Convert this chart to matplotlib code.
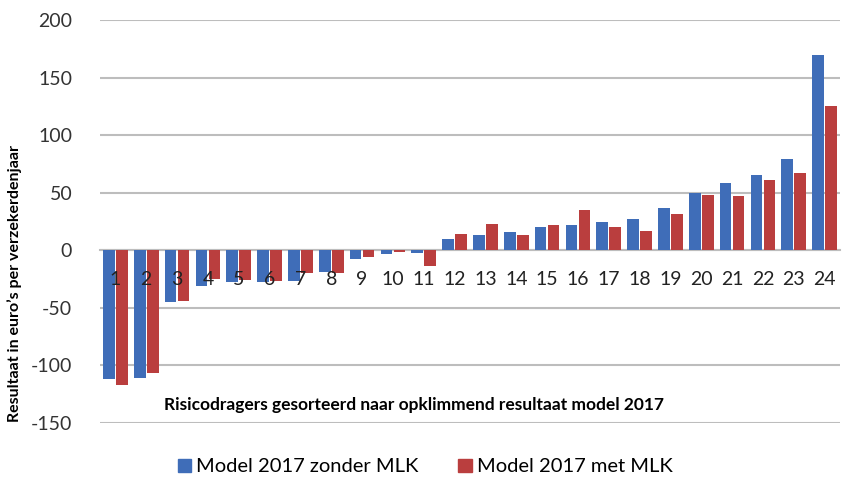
import numpy as np
import matplotlib.pyplot as plt
from matplotlib.patches import Patch

plt.rcParams['font.family'] = ['Lato', 'DejaVu Sans']
plt.rcParams['axes.unicode_minus'] = False

categories = [str(i) for i in range(1, 25)]
zonder_mlk = [-112, -111, -45, -31, -27.5, -27.5, -26.7, -19, -8, -3, -2.5, 10,
              13.3, 16.2, 20, 22.3, 24.9, 27, 36.8, 50.1, 58.3, 65.2, 79.1, 169.6]
met_mlk = [-117, -107, -44, -25, -25.5, -26.5, -20, -19.5, -6, -1.5, -13.7, 14.5,
           23.2, 13.3, 22.3, 34.8, 20.3, 17.1, 31.9, 48.4, 47.5, 61.4, 67.2, 125.5]

blue = '#3F6DB8'
red = '#BA3E3E'
grid_c = '#BDBDBD'

fig = plt.figure(figsize=(8.46, 4.8), dpi=100)
ax = fig.add_axes([100/846, 1 - 423/480, 740/846, 403/480])

x = np.arange(len(categories))
w = 0.38
ax.bar(x - 0.21, zonder_mlk, w, color=blue, zorder=3)
ax.bar(x + 0.21, met_mlk, w, color=red, zorder=3)

ax.set_xlim(-0.5, len(categories) - 0.5)
ax.set_ylim(-150, 200)
ax.set_yticks(range(-150, 201, 50))
ax.yaxis.grid(True, color=grid_c, linewidth=1.5)
ax.yaxis.set_zorder(1)
ax.tick_params(axis='y', length=0, pad=20, labelsize=14, labelcolor='#333333')

ax.spines['bottom'].set_position(('data', 0))
ax.spines['bottom'].set_color(grid_c)
ax.spines['bottom'].set_linewidth(1.5)
ax.spines['bottom'].set_zorder(1)
for s in ['top', 'right', 'left']:
    ax.spines[s].set_visible(False)
ax.set_xticks(x)
ax.set_xticklabels(categories)
ax.xaxis.set_zorder(5)
ax.tick_params(axis='x', length=0, pad=15, labelsize=14, labelcolor='#222222')

fig.text(15/846, 1 - 283/480, "Resultaat in euro\u2019s per verzekerdenjaar",
         rotation=90, ha='center', va='center', fontsize=11.5, fontweight='bold')
fig.text(414/846, 1 - 405/480, "Risicodragers gesorteerd naar opklimmend resultaat model 2017",
         ha='center', va='center', fontsize=12.5, fontweight='bold')

handles = [Patch(color=blue, label='Model 2017 zonder MLK'),
           Patch(color=red, label='Model 2017 met MLK')]
fig.legend(handles=handles, loc='center', bbox_to_anchor=(425/846, 1 - 467/480),
           ncol=2, frameon=False, fontsize=14.5, handlelength=0.65, handleheight=0.65,
           handletextpad=0.25, columnspacing=2.0)

fig.savefig('out.png', dpi=100)
